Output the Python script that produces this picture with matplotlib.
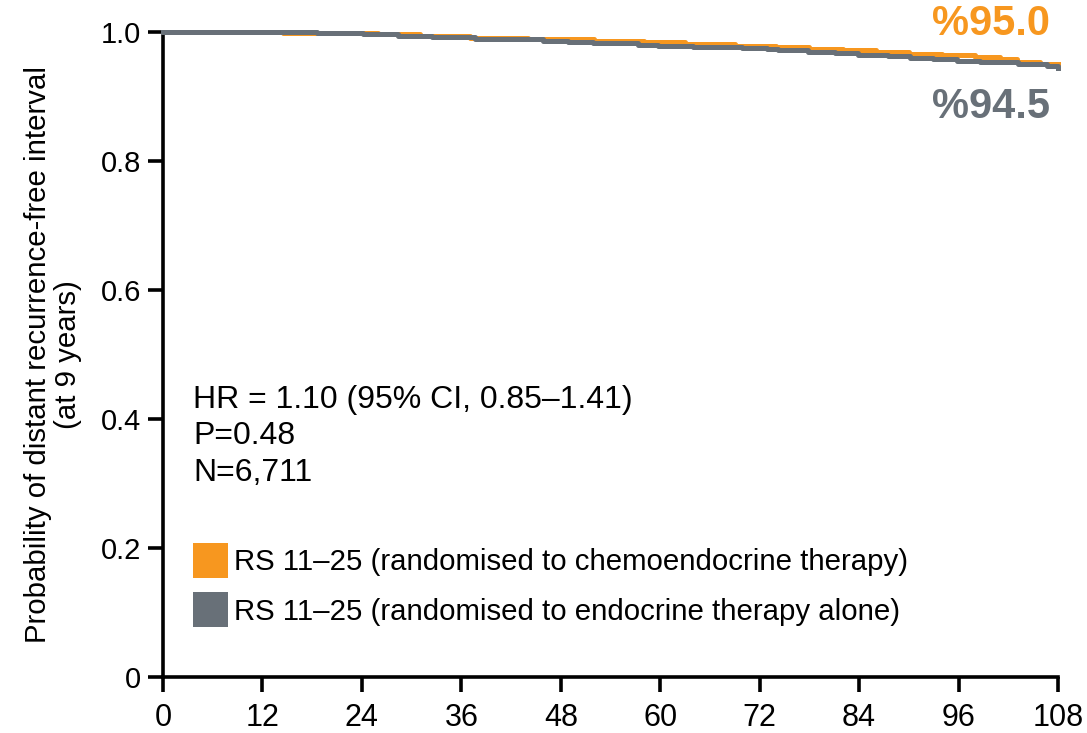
import matplotlib.pyplot as plt
from matplotlib.patches import Patch
from matplotlib import font_manager

# Kaplan-Meier steps (months, survival probability)
months_chemo = [0, 14.5, 26, 31, 37, 44, 52, 58, 63, 69, 74, 78, 82, 86, 90, 94, 98, 101, 103, 105.8, 108]
surv_chemo = [1.0, 0.9985, 0.9965, 0.9940, 0.9915, 0.9890, 0.9865, 0.9840, 0.9815, 0.9790, 0.9765,
              0.9740, 0.9715, 0.9690, 0.9665, 0.9640, 0.9615, 0.9580, 0.9530, 0.9500, 0.9500]

months_endo = [0, 18.6, 24.1, 28.4, 32.5, 37.6, 45.9, 48.9, 51.9, 57.3, 59.7, 64.0, 69.9, 72.9,
               74.2, 77.8, 81.1, 83.9, 87.5, 90.1, 92.9, 95.8, 98.6, 103.2, 106.7, 108]
surv_endo = [1.0, 0.9984, 0.9969, 0.9946, 0.9920, 0.9888, 0.9865, 0.9850, 0.9833, 0.9806, 0.9791,
             0.9771, 0.9747, 0.9736, 0.9721, 0.9698, 0.9674, 0.9651, 0.9628, 0.9605, 0.9581,
             0.9558, 0.9535, 0.9512, 0.9473, 0.9450]

final_chemo = 95.0
final_endo = 94.5

x_ticks = [0, 12, 24, 36, 48, 60, 72, 84, 96, 108]
y_ticks = [0, 0.2, 0.4, 0.6, 0.8, 1.0]
y_ticklabels = ["0", "0.2", "0.4", "0.6", "0.8", "1.0"]

stats_lines = ["HR = 1.10 (95% CI, 0.85\u20131.41)", "P=0.48", "N=6,711"]
legend_labels = ["RS 11\u201325 (randomised to chemoendocrine therapy)",
                 "RS 11\u201325 (randomised to endocrine therapy alone)"]

ORANGE = "#F7971F"
GRAY = "#687078"

installed = {f.name for f in font_manager.fontManager.ttflist}
narrow = "Liberation Sans Narrow" if "Liberation Sans Narrow" in installed else "Liberation Sans"
plt.rcParams['font.family'] = ['Liberation Sans', 'DejaVu Sans']

W, H = 1087, 733
fig = plt.figure(figsize=(W / 100, H / 100), dpi=100)
ax = fig.add_axes([0.150, 0.0764, 0.8233, 0.8799])

ax.step(months_chemo, surv_chemo, where="post", color=ORANGE, lw=3.6, clip_on=False, zorder=3)
ax.step(months_endo, surv_endo, where="post", color=GRAY, lw=3.6, clip_on=False, zorder=4)

ax.set_xlim(0, 108)
ax.set_ylim(0, 1.0)
for s in ["top", "right"]:
    ax.spines[s].set_visible(False)
for s in ["left", "bottom"]:
    ax.spines[s].set_linewidth(2.6)
ax.set_xticks(x_ticks)
ax.set_yticks(y_ticks)
ax.set_yticklabels(y_ticklabels)
ax.tick_params(axis="both", direction="out", length=11, width=2.6, colors="black")
ax.tick_params(axis="y", labelsize=21, pad=5)
ax.tick_params(axis="x", labelsize=22, pad=8)
for lab in ax.get_xticklabels():
    lab.set_family(narrow)

ax.set_ylabel("Probability of distant recurrence-free interval\n(at 9 years)",
              fontsize=21.2, family=narrow, labelpad=13, linespacing=1.1)

# final percentages at the right end (pixel positions from top-left)
fig.text(1050 / W, 1 - 35 / H, f"%{final_chemo:.1f}", ha="right", va="baseline",
         fontsize=30, fontweight="bold", color=ORANGE)
fig.text(1050 / W, 1 - 118 / H, f"%{final_endo:.1f}", ha="right", va="baseline",
         fontsize=30, fontweight="bold", color=GRAY)

# hazard ratio block
for i, line in enumerate(stats_lines):
    ax.text(0.0335, 0.4300 - i * 0.0565, line, transform=ax.transAxes,
            fontsize=23, va="center", ha="left")

handles = [Patch(facecolor=ORANGE, edgecolor="none"), Patch(facecolor=GRAY, edgecolor="none")]
ax.legend(handles, legend_labels, loc="lower left", bbox_to_anchor=(0.0335, 0.077),
          frameon=False, fontsize=21.2, handlelength=1.2, handleheight=1.45,
          handletextpad=0.2, labelspacing=0.5, borderpad=0, borderaxespad=0)

fig.savefig("out.png", dpi=100)
